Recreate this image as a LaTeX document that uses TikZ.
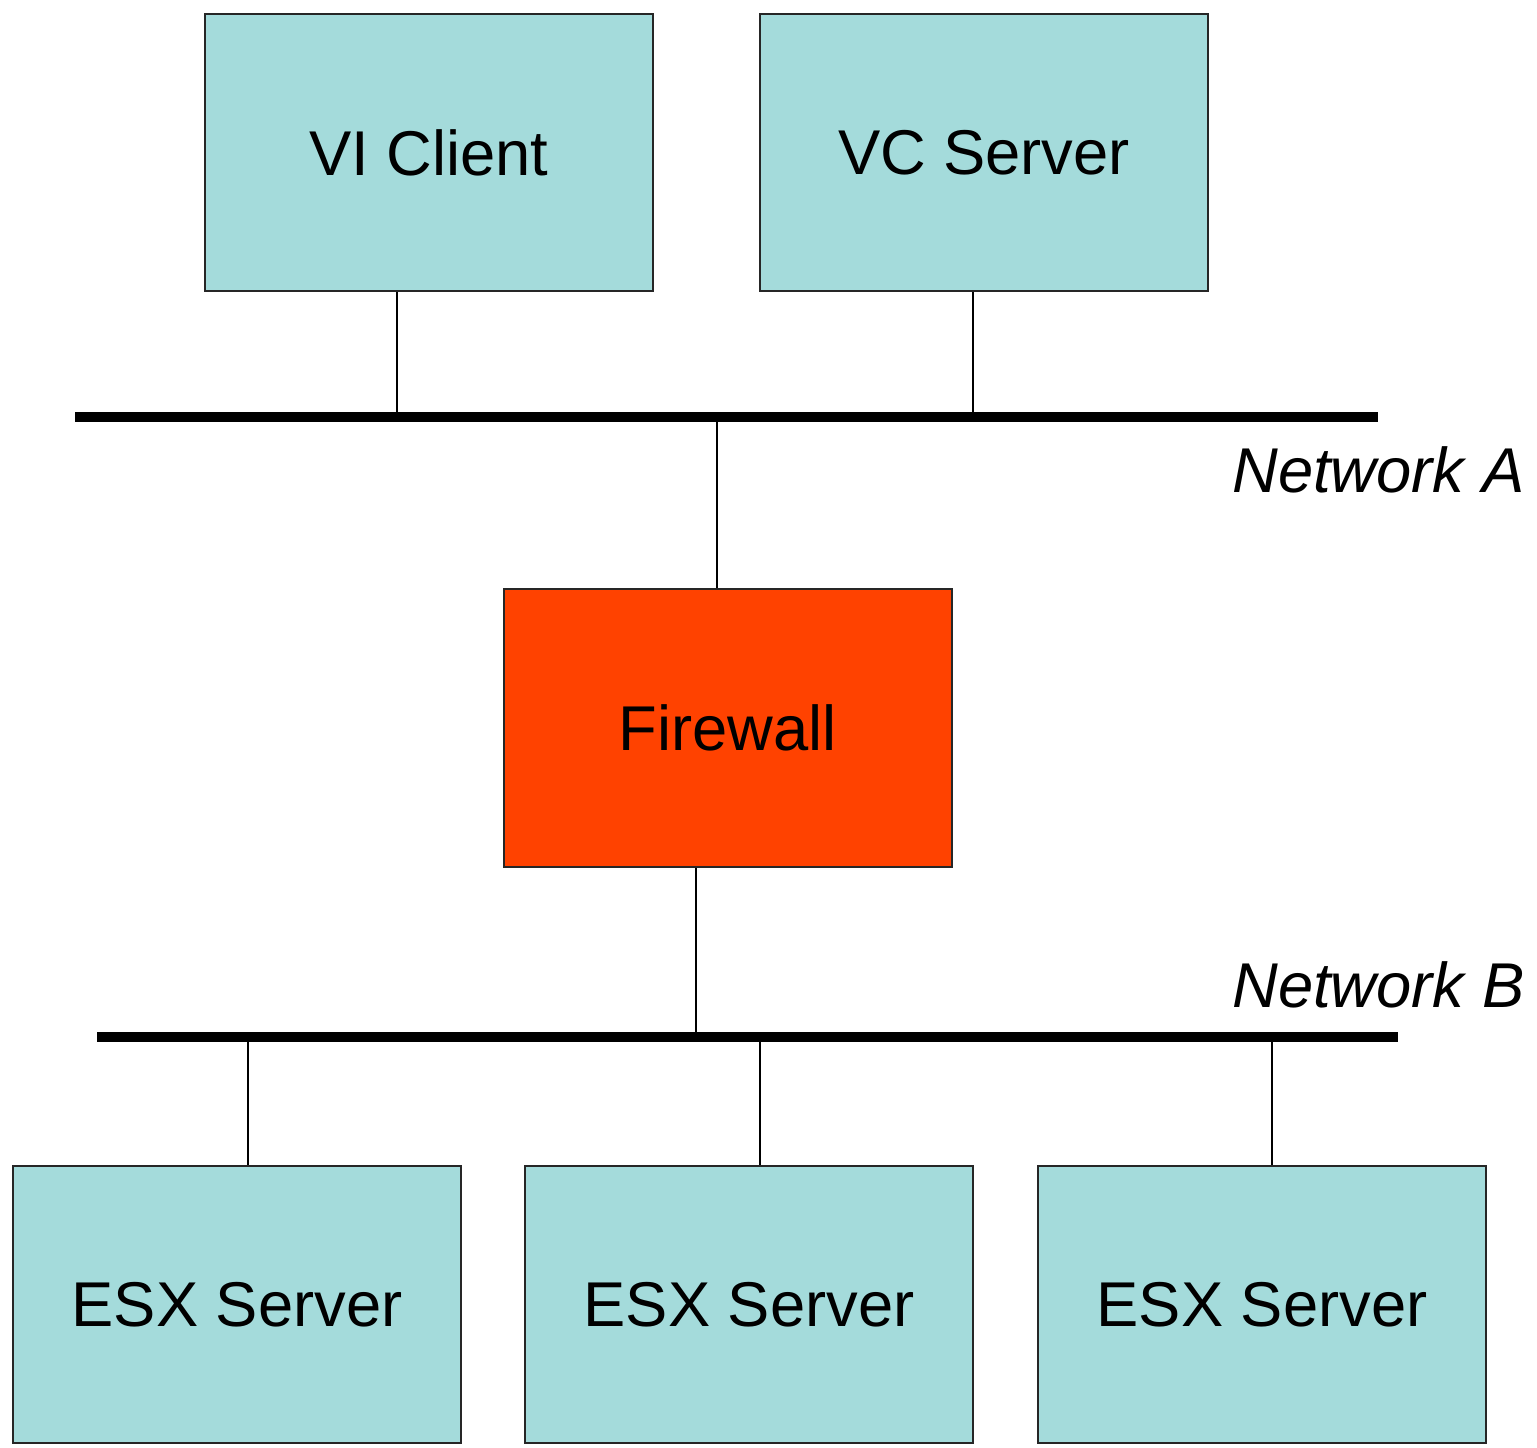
\documentclass[tikz,border=0pt]{standalone}
\usepackage{fontspec}
\setmainfont{Liberation Sans}
\usepackage{tikz}
\usetikzlibrary{positioning}
\definecolor{boxblue}{HTML}{A4DBDB}
\definecolor{fwred}{HTML}{FF4200}
\tikzset{
  host/.style={draw=black!85, line width=0.6pt, fill=boxblue, minimum width=4.48cm, minimum height=2.77cm, inner sep=0pt, font=\fontsize{18}{21}\selectfont},
  wall/.style={host, fill=fwred},
  bus/.style={line width=2.6pt},
  link/.style={line width=0.6pt},
  netlabel/.style={anchor=east, inner sep=0pt, font=\fontsize{18}{21}\selectfont\itshape}
}
\begin{document}
\begin{tikzpicture}[x=0.01cm,y=-0.01cm]
\useasboundingbox (0,0) rectangle (1537,1447);
% hosts
\node[host] (vic) at (429,152.5) {VI Client};
\node[host] (vcs) at (984,152.5) {VC Server};
\node[wall] (fw) at (728,728) {Firewall};
\node[host] (esxa) at (237,1304.5) {ESX Server};
\node[host] (esxb) at (749,1304.5) {ESX Server};
\node[host] (esxc) at (1262,1304.5) {ESX Server};
%% networks
\coordinate (netaw) at (75,417);
\coordinate (netae) at (1378,417);
\coordinate (netbw) at (97,1037);
\coordinate (netbe) at (1398,1037);
\draw[bus] (netaw) -- (netae);
\draw[bus] (netbw) -- (netbe);
\node[netlabel] (labela) at (1525,470) {Network A};
\node[netlabel] (labelb) at (1525,985) {Network B};
%% links
\draw[link] ([xshift=-0.32cm]vic.south) -- ([xshift=-0.32cm]vic.south |- netaw);
\draw[link] ([xshift=-0.11cm]vcs.south) -- ([xshift=-0.11cm]vcs.south |- netaw);
\draw[link] ([xshift=-0.11cm]fw.north) -- ([xshift=-0.11cm]fw.north |- netaw);
\draw[link] ([xshift=-0.32cm]fw.south) -- ([xshift=-0.32cm]fw.south |- netbw);
\draw[link] ([xshift=0.11cm]esxa.north) -- ([xshift=0.11cm]esxa.north |- netbw);
\draw[link] ([xshift=0.11cm]esxb.north) -- ([xshift=0.11cm]esxb.north |- netbw);
\draw[link] ([xshift=0.1cm]esxc.north) -- ([xshift=0.1cm]esxc.north |- netbw);
\end{tikzpicture}
\end{document}
